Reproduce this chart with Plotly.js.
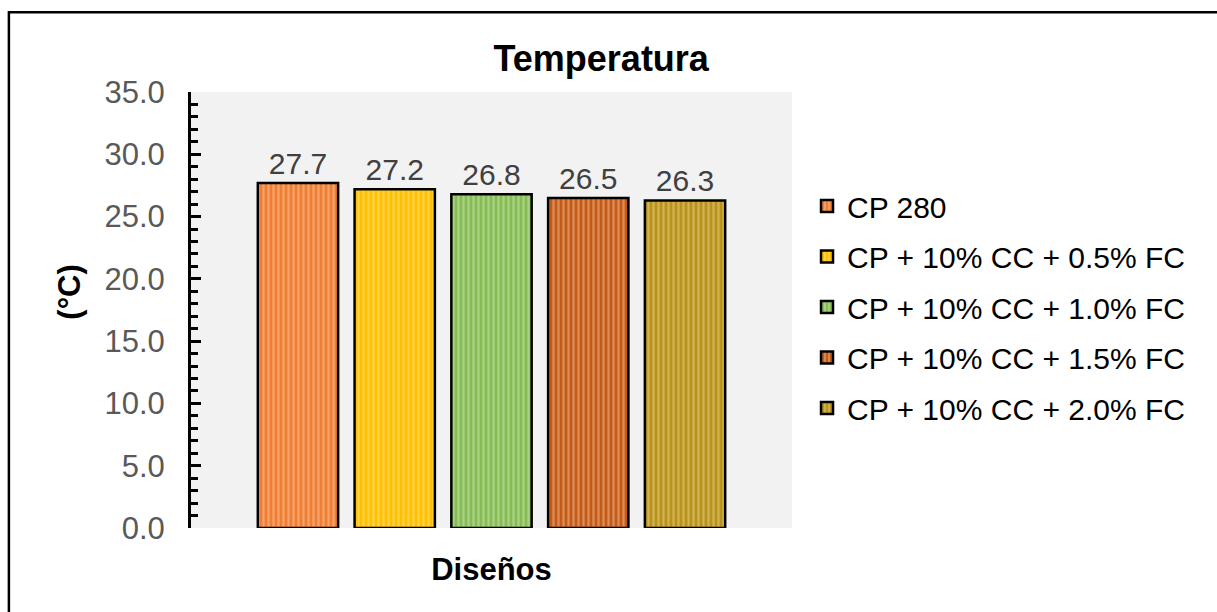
<!DOCTYPE html>
<html><head><meta charset="utf-8">
<script src="https://cdn.plot.ly/plotly-3.0.1.min.js"></script>
<style>body{margin:0;padding:0;background:#fff;}#chart{width:1217px;height:612px;}</style>
</head><body><div id="chart"></div>
<script>
var seriesNames = ["CP 280", "CP + 10% CC + 0.5% FC", "CP + 10% CC + 1.0% FC", "CP + 10% CC + 1.5% FC", "CP + 10% CC + 2.0% FC"];
var temperatures = [27.7, 27.2, 26.8, 26.5, 26.3];
var category = ["Diseños"];
var baseColors = ["#F07E32", "#FFC000", "#86BC54", "#C45A16", "#B8921C"];
var stripeColors = ["#FBC8A4", "#FFE48C", "#CDE7B4", "#F2BE9C", "#E8D586"];
var yTickVals = [0, 5, 10, 15, 20, 25, 30, 35];

var traces = seriesNames.map(function(name, i){
  return {
    type: 'bar', name: name, x: category, y: [temperatures[i]],
    legendgroup: 'g' + i,
    text: [temperatures[i].toFixed(1)], textposition: 'outside', cliponaxis: false,
    textfont: {family: 'Liberation Sans, Arial, sans-serif', size: 30, color: '#404040'},
    marker: {color: baseColors[i], line: {color: '#000', width: 2.5},
      pattern: {shape: '|', fgcolor: stripeColors[i], bgcolor: baseColors[i], size: 5, solidity: 0.45, fillmode: 'overlay'}},
    hoverinfo: 'skip'
  };
});

var layout = {
  width: 1217, height: 612,
  margin: {l: 191, r: 425, t: 92, b: 84},
  paper_bgcolor: '#fff', plot_bgcolor: '#F2F2F2',
  font: {family: 'Liberation Sans, Arial, sans-serif', color: '#000'},
  barmode: 'group', bargap: 0.195, bargroupgap: 0.17,
  showlegend: true,
  title: {text: '<b>Temperatura</b>', font: {size: 36, color: '#000'}, x: 0.494, xanchor: 'center', y: 0.905, yanchor: 'middle', xref: 'container', yref: 'container'},
  xaxis: {showticklabels: false, showline: false, ticks: '', showgrid: false, zeroline: false,
    title: {text: '<b>Diseños</b>', font: {size: 31, color: '#000'}, standoff: 30}},
  yaxis: {range: [0, 35], tickvals: yTickVals, ticktext: yTickVals.map(function(v){return v.toFixed(1);}),
    showline: true, linecolor: '#000', linewidth: 3, ticks: 'inside', ticklen: 10, tickwidth: 3, tickcolor: '#000',
    minor: {dtick: 1, ticks: 'inside', ticklen: 7, tickwidth: 3, tickcolor: '#000', showgrid: false},
    showgrid: false, zeroline: false, ticklabelstandoff: 17,
    tickfont: {size: 31, color: '#595959'}},
  legend: {x: 1.025, xanchor: 'left', y: 0.798, yanchor: 'top', font: {size: 30, color: '#000'}, tracegroupgap: 8.5, traceorder: 'grouped', itemwidth: 30, bgcolor: 'rgba(0,0,0,0)'},
  annotations: [{text: '<b>(°C)</b>', xref: 'paper', yref: 'paper', x: -0.2346, y: 0.541, textangle: -90, showarrow: false, font: {size: 31, color: '#000'}}],
  shapes: [{type: 'rect', xref: 'paper', yref: 'paper', x0: -0.303, x1: 2, y0: -0.5, y1: 1.183, line: {color: '#000', width: 2.5}, fillcolor: 'rgba(0,0,0,0)', layer: 'above'}]
};
Plotly.newPlot('chart', traces, layout, {displayModeBar: false, staticPlot: true});
</script></body></html>
